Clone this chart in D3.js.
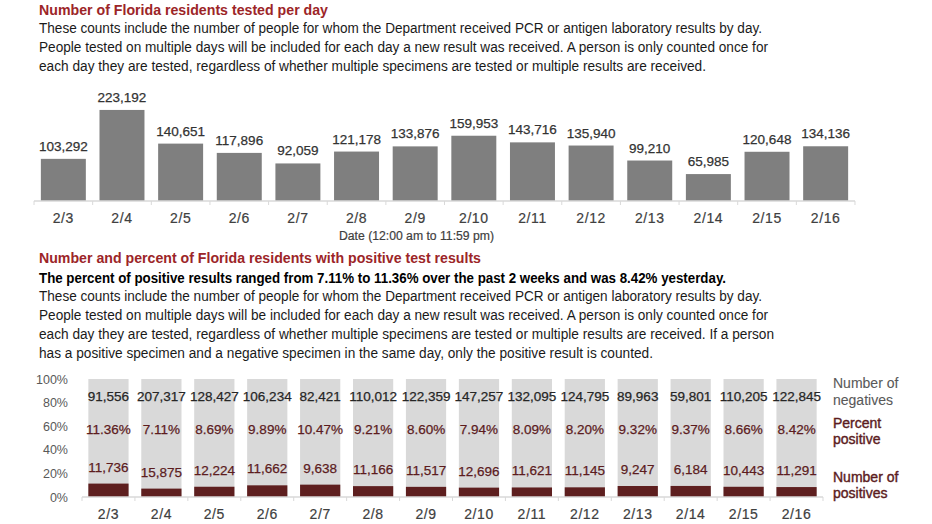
<!DOCTYPE html>
<html>
<head>
<meta charset="utf-8">
<script src="https://cdn.jsdelivr.net/npm/d3@7"></script>
<style>
body { margin: 0; background: #fff; }
text { font-family: "Liberation Sans", Arial, sans-serif; }
</style>
</head>
<body>
<div id="graphs"></div>
<script>
const dates = ['2/3','2/4','2/5','2/6','2/7','2/8','2/9','2/10','2/11','2/12','2/13','2/14','2/15','2/16'];
const tested = [103292,223192,140651,117896,92059,121178,133876,159953,143716,135940,99210,65985,120648,134136];
const negatives = [91556,207317,128427,106234,82421,110012,122359,147257,132095,124795,89963,59801,110205,122845];
const positives = [11736,15875,12224,11662,9638,11166,11517,12696,11621,11145,9247,6184,10443,11291];
const pctPositive = [11.36,7.11,8.69,9.89,10.47,9.21,8.60,7.94,8.09,8.20,9.32,9.37,8.66,8.42];
const pctTicks = [0,20,40,60,80,100];

const width = 932;
const height = 524;
const red = '#9c2528';
const darkRed = '#5e1f1f';
const labelRed = '#5c1c1e';

const svg = d3.select('#graphs')
.append('svg')
.attr('width', width)
.attr('height', height);

// heading and paragraph text
function textLine(str, x, y, len, opts){
    svg.append('text')
    .attr('x', x).attr('y', y)
    .attr('font-size', opts.size)
    .attr('font-weight', opts.weight || 'normal')
    .attr('fill', opts.color)
    .attr('textLength', len)
    .attr('lengthAdjust', 'spacingAndGlyphs')
    .text(str);
}

const para = [
    ['These counts include the number of people for whom the Department received PCR or antigen laboratory results by day.', 723],
    ['People tested on multiple days will be included for each day a new result was received. A person is only counted once for', 729],
    ['each day they are tested, regardless of whether multiple specimens are tested or multiple results are received.', 667]
];

textLine('Number of Florida residents tested per day', 39, 15, 289, {size:15, weight:'bold', color:red});
para.forEach((p,i)=> textLine(p[0], 39, 33 + i*19, p[1], {size:14, color:'#1a1a1a'}));

textLine('Number and percent of Florida residents with positive test results', 39, 263, 442, {size:15, weight:'bold', color:red});
textLine('The percent of positive results ranged from 7.11% to 11.36% over the past 2 weeks and was 8.42% yesterday.', 39, 283, 687, {size:14, weight:'bold', color:'#000'});
const para2 = [
    para[0], para[1],
    ['each day they are tested, regardless of whether multiple specimens are tested or multiple results are received. If a person', 735],
    ['has a positive specimen and a negative specimen in the same day, only the positive result is counted.', 614]
];
para2.forEach((p,i)=> textLine(p[0], 39, 301 + i*19, p[1], {size:14, color:'#1a1a1a'}));

// ---- top chart: tested per day
const x1 = d3.scaleBand()
.domain(dates)
.range([34, 855])
.paddingInner(0.233)
.paddingOuter(0.117);

const y1 = d3.scaleLinear()
.domain([0, 250000])
.range([201, 99]);

svg.append('g')
.attr('fill', '#7f7f7f')
.selectAll('rect')
.data(dates)
.join('rect')
.attr('x', d => x1(d))
.attr('y', (d,i) => y1(tested[i]))
.attr('width', x1.bandwidth())
.attr('height', (d,i) => y1(0) - y1(tested[i]));

svg.append('g')
.selectAll('text')
.data(dates)
.join('text')
.attr('x', d => x1(d) + x1.bandwidth()/2)
.attr('y', (d,i) => y1(tested[i]) - 8)
.attr('text-anchor', 'middle')
.attr('font-size', 13.5)
.attr('fill', '#333')
.attr('stroke', '#333')
.attr('stroke-width', 0.25)
.text((d,i) => d3.format(',')(tested[i]));

function bandAxis(g, x, y0, labelY){
    const half = x.step() * x.paddingInner() / 2;
    const edges = dates.map(d => x(d) - half).concat([x(dates[dates.length-1]) + x.bandwidth() + half]);
    g.append('line')
    .attr('x1', x.range()[0]).attr('x2', x.range()[1])
    .attr('y1', y0).attr('y2', y0)
    .attr('stroke', '#d9d9d9').attr('stroke-width', 1.5);
    g.selectAll('.tk')
    .data(edges)
    .join('line')
    .attr('x1', d => d).attr('x2', d => d)
    .attr('y1', y0).attr('y2', y0 + 4)
    .attr('stroke', '#d9d9d9');
    g.append('g')
    .attr('transform', `translate(0, ${labelY})`)
    .call(d3.axisBottom(x).tickSize(0).tickPadding(0))
    .call(a => a.select('.domain').remove())
    .call(a => a.selectAll('text')
        .attr('dy', 0)
        .attr('font-size', 14)
        .attr('letter-spacing', 0.6)
        .attr('font-family', '"Liberation Sans", Arial, sans-serif')
        .attr('fill', '#404040')
        .attr('stroke', '#404040')
        .attr('stroke-width', 0.2));
}

svg.append('g').call(g => bandAxis(g, x1, 201, 223));

svg.append('text')
.attr('x', 339).attr('y', 240)
.attr('font-size', 12.5)
.attr('fill', '#404040')
.attr('stroke', '#404040')
.attr('stroke-width', 0.2)
.attr('textLength', 155)
.attr('lengthAdjust', 'spacingAndGlyphs')
.text('Date (12:00 am to 11:59 pm)');

// ---- bottom chart: negatives / positives share
const x2 = d3.scaleBand()
.domain(dates)
.range([82, 823])
.paddingInner(0.24)
.paddingOuter(0.12);

const y2 = d3.scaleLinear()
.domain([0, 100])
.range([497, 379]);

svg.append('g')
.attr('fill', '#d9d9d9')
.selectAll('rect')
.data(dates)
.join('rect')
.attr('x', d => x2(d))
.attr('y', y2(100))
.attr('width', x2.bandwidth())
.attr('height', y2(0) - y2(100));

svg.append('g')
.attr('fill', darkRed)
.selectAll('rect')
.data(dates)
.join('rect')
.attr('x', d => x2(d))
.attr('y', (d,i) => y2(pctPositive[i]))
.attr('width', x2.bandwidth())
.attr('height', (d,i) => y2(0) - y2(pctPositive[i]));

function barLabels(values, yFn, color, fmt){
    svg.append('g')
    .selectAll('text')
    .data(dates)
    .join('text')
    .attr('x', d => x2(d) + x2.bandwidth()/2)
    .attr('y', yFn)
    .attr('text-anchor', 'middle')
    .attr('font-size', 13.5)
    .attr('fill', color)
    .attr('stroke', color)
    .attr('stroke-width', 0.25)
    .text((d,i) => fmt(values[i]));
}

barLabels(negatives, () => 401, '#262626', d3.format(','));
barLabels(pctPositive, () => 434, labelRed, v => d3.format('.2f')(v) + '%');
barLabels(positives, (d,i) => y2(pctPositive[i]) - 12, labelRed, d3.format(','));

svg.append('g')
.attr('transform', 'translate(68,0)')
.call(d3.axisLeft(y2).tickValues(pctTicks).tickFormat(d => d + '%').tickSize(0).tickPadding(0))
.call(g => g.select('.domain').remove())
.call(g => g.selectAll('text')
    .attr('font-size', 12.5)
    .attr('font-family', '"Liberation Sans", Arial, sans-serif')
    .attr('fill', '#595959'));

svg.append('g').call(g => bandAxis(g, x2, 497, 519));

// legend on the right
const legend = [
    ['Number of', 388, '#595959'], ['negatives', 405, '#595959'],
    ['Percent', 428, labelRed], ['positive', 444, labelRed],
    ['Number of', 482, labelRed], ['positives', 498, labelRed]
];
svg.append('g')
.selectAll('text')
.data(legend)
.join('text')
.attr('x', 833)
.attr('y', d => d[1])
.attr('font-size', 14)
.attr('fill', d => d[2])
.attr('stroke', d => d[2])
.attr('stroke-width', d => d[2] === labelRed ? 0.4 : 0.1)
.text(d => d[0]);
</script>
</body>
</html>
